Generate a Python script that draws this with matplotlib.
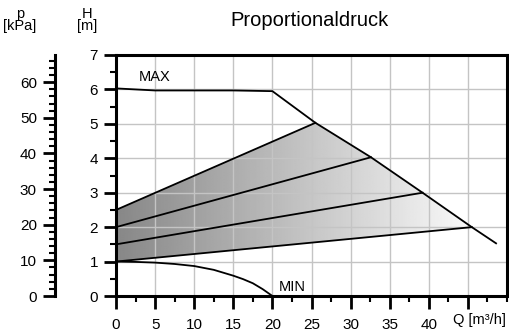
import numpy as np
import matplotlib.pyplot as plt
from matplotlib.patches import Polygon
from matplotlib.ticker import MultipleLocator

plt.rcParams['font.family'] = ['Liberation Sans', 'DejaVu Sans']

# Data

max_q = [0, 5, 10, 15, 20, 25.5, 32.6, 39.2, 45.5, 48.6]
max_h = [6.03, 5.97, 5.97, 5.97, 5.95, 5.03, 4.03, 3.0, 2.0, 1.53]

min_q = [0, 2.5, 5, 7.5, 10, 12.5, 15, 16.25, 17.5, 18.75, 20]
min_h = [1.0, 0.99, 0.97, 0.93, 0.87, 0.76, 0.59, 0.49, 0.37, 0.2, 0.0]

# proportional pressure curves (start at Q=0, end on the MAX curve)
prop_start_h = [1.0, 1.5, 2.0, 2.5]
prop_end_q = [45.5, 39.2, 32.6, 25.5]
prop_end_h = [2.0, 3.0, 4.03, 5.03]

KPA_PER_M = 9.66

fig = plt.figure(figsize=(5.09, 3.31), dpi=100)
ax = fig.add_axes([116 / 509, 35 / 331, 391 / 509, 241 / 331])

ax.set_xlim(0, 50)
ax.set_ylim(0, 7)

# gradient area between lowest and highest proportional curve
outline = [(0, prop_start_h[0]), (prop_end_q[0], prop_end_h[0])]
outline += [(q, h) for q, h in zip(max_q, max_h) if prop_end_q[-1] < q < prop_end_q[0]][::-1]
outline += [(prop_end_q[-1], prop_end_h[-1]), (0, prop_start_h[-1])]
poly = Polygon(outline, closed=True, facecolor='none', edgecolor='none')
ax.add_patch(poly)
grad = np.linspace(0.53, 0.98, 256).reshape(1, -1)
img = ax.imshow(grad, cmap='gray', vmin=0, vmax=1, aspect='auto',
                extent=[0, prop_end_q[0], prop_start_h[0], prop_end_h[-1]],
                origin='lower', interpolation='bilinear', zorder=0.2)
img.set_clip_path(poly)

ax.set_axisbelow(True)
ax.grid(color='#c4c4c4', linewidth=1.0)

lw = 1.3
ax.plot(max_q, max_h, color='black', lw=lw, zorder=3)
ax.plot(min_q, min_h, color='black', lw=lw, zorder=3)
for h0, q1, h1 in zip(prop_start_h, prop_end_q, prop_end_h):
    ax.plot([0, q1], [h0, h1], color='black', lw=lw, zorder=3)

ax.text(5, 6.35, 'MAX', ha='center', va='center', fontsize=10.5)
ax.text(22.6, 0.27, 'MIN', ha='center', va='center', fontsize=10.5)

# axes styling
for s in ax.spines.values():
    s.set_linewidth(2.2)
ax.xaxis.set_major_locator(MultipleLocator(5))
ax.xaxis.set_minor_locator(MultipleLocator(2.5))
ax.yaxis.set_major_locator(MultipleLocator(1))
ax.yaxis.set_minor_locator(MultipleLocator(0.5))
ax.tick_params(which='major', length=9, width=2, labelsize=11, pad=4)
ax.tick_params(which='minor', length=4.5, width=1.5)
ax.tick_params(axis='x', pad=7)
ax.set_xticks(range(0, 50, 5))
ax.set_xticklabels([str(v) for v in range(0, 45, 5)] + [''])
ax.text(46.5, -0.5, 'Q [m³/h]', ha='center', va='top', fontsize=10.5,
        transform=ax.transData)

# pressure axis in kPa
sec = ax.secondary_yaxis(-61 / 391, functions=(lambda h: h * KPA_PER_M,
                                               lambda p: p / KPA_PER_M))
sec.spines['left'].set_linewidth(2.2)
sec.yaxis.set_major_locator(MultipleLocator(10))
sec.yaxis.set_minor_locator(MultipleLocator(2))
sec.set_yticks([0, 10, 20, 30, 40, 50, 60])
sec.tick_params(which='major', length=9, width=2, labelsize=11, pad=4)
sec.tick_params(which='minor', length=4.5, width=1.5)

fig.text(20 / 509, 1 - 20 / 331, 'p\n[kPa]', ha='center', va='center',
         fontsize=10.5, linespacing=0.9)
fig.text(87 / 509, 1 - 20 / 331, 'H\n[m]', ha='center', va='center',
         fontsize=10.5, linespacing=0.9)
fig.text(310 / 509, 1 - 20 / 331, 'Proportionaldruck', ha='center',
         va='center', fontsize=14.5)

fig.savefig('out.png', dpi=100)
